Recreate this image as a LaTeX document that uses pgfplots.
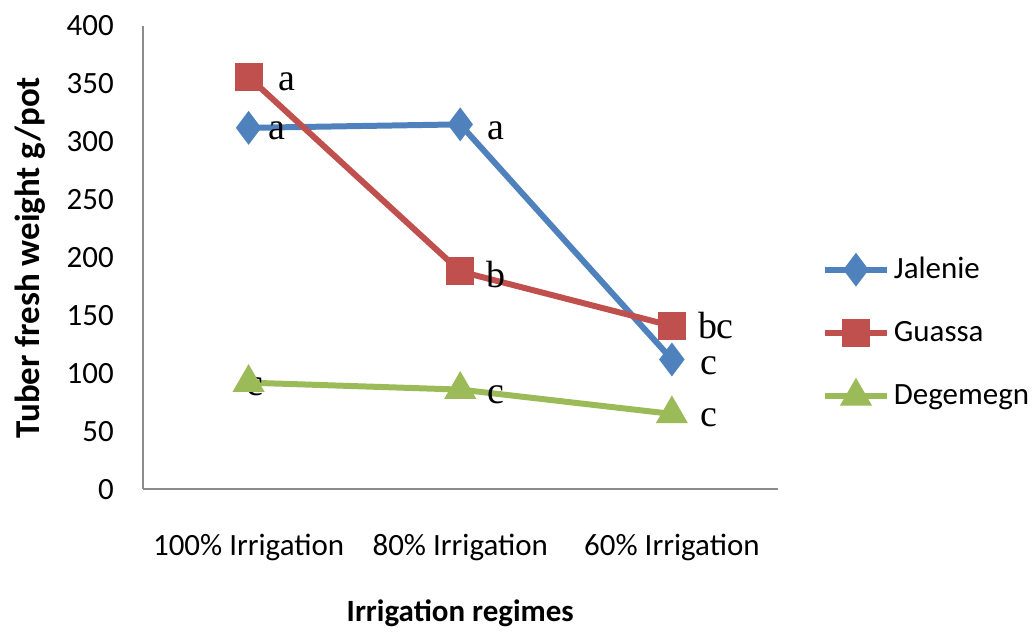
\documentclass[border=0pt]{standalone}
\usepackage{pgfplots}
\pgfplotsset{compat=1.18}
\usepackage{fontspec}
\setmainfont{Carlito}
\newfontfamily\timesf{Liberation Serif}
\definecolor{cblue}{HTML}{4F81BD}
\definecolor{cred}{HTML}{C0504D}
\definecolor{cgreen}{HTML}{9BBB59}
\definecolor{axgray}{HTML}{8C8C8C}
\begin{document}
\begin{tikzpicture}
\begin{axis}[
  scale only axis,
  width=318pt, height=232pt,
  xmin=-0.5, xmax=2.5, ymin=0, ymax=400,
  axis lines*=left,
  axis line style={-, axgray, line width=1pt},
  xtick={0,1,2},
  xticklabels={100\% Irrigation, 80\% Irrigation, 60\% Irrigation},
  ytick={0,50,...,400},
  major tick length=0pt,
  /pgf/number format/assume math mode=true,
  tick label style={font=\fontsize{15.5}{18}\selectfont},
  yticklabel style={xshift=-11pt},
  xticklabel style={yshift=-19pt},
  xlabel={\textbf{Irrigation regimes}},
  ylabel={\textbf{Tuber fresh weight g/pot}},
  xlabel style={font=\fontsize{15.5}{18}\selectfont, yshift=-12.5pt},
  ylabel style={font=\fontsize{17.5}{20}\selectfont, yshift=4pt},
  legend style={draw=none, at={(1.066,0.338)}, anchor=west,
    font=\fontsize{15.5}{18}\selectfont, row sep=16pt, inner sep=1pt},
  legend cell align=left,
  legend image code/.code={\draw[mark repeat=2,mark phase=2,#1] plot coordinates {(0pt,0pt)(15.5pt,0pt)(31pt,0pt)};},
  clip=false,
]
\path (rel axis cs:-0.2248,-0.306) rectangle (rel axis cs:1.4025,1.056);
\addplot[cblue, line width=3pt, mark=diamond*, mark size=6pt, mark options={solid, fill=cblue, draw=none}]
  coordinates {(0,312) (1,315) (2,112)};
\addlegendentry{Jalenie}
\addplot[cred, line width=3pt, mark=square*, mark size=5.5pt, mark options={solid, fill=cred, draw=none}]
  coordinates {(0,356) (1,188) (2,141)};
\addlegendentry{Guassa}
\addplot[cgreen, line width=3pt, mark=triangle*, mark size=6.3pt, mark options={solid, fill=cgreen, draw=none}]
  coordinates {(0,92) (1,86) (2,65)};
\addlegendentry{Degemegn}

\begin{scope}[every node/.style={font=\timesf\fontsize{19}{21}\selectfont, inner sep=0pt}]
\node at (axis cs:0.179,351.7) {a};
\node at (axis cs:0.132,309.5) {a};
\node at (axis cs:1.170,309.5) {a};
\node at (axis cs:1.170,185.3) {b};
\node at (axis cs:2.208,141.0) {bc};
\node at (axis cs:2.175,106.5) {c};
\node at (axis cs:2.175,62.1) {c};
\node at (axis cs:0.028,88.8) {c};
\node at (axis cs:1.170,81.9) {c};
\end{scope}
\end{axis}
\end{tikzpicture}
\end{document}
